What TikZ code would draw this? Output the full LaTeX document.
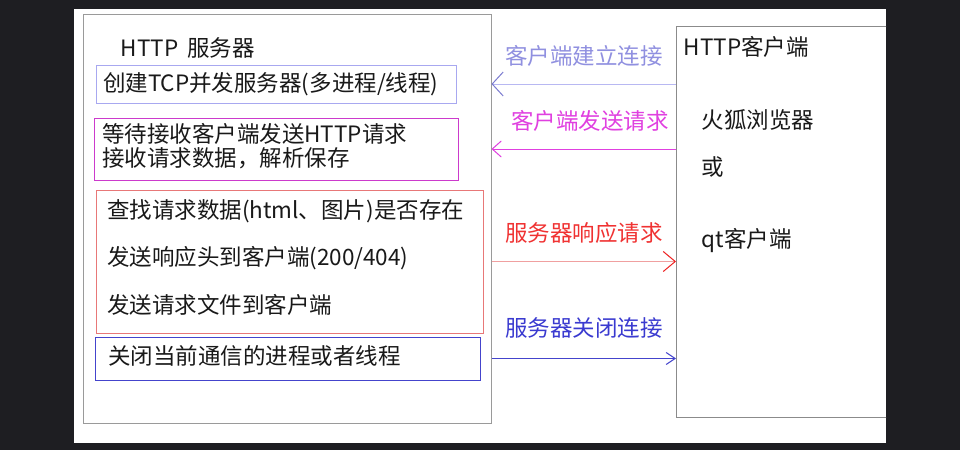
\documentclass[tikz,border=0pt]{standalone}
\usepackage{fontspec}
\setmainfont{Noto Sans CJK SC}
\usepackage{tikz}
\usetikzlibrary{arrows.meta,positioning}
\definecolor{bgdark}{HTML}{1E1E22}
\definecolor{framegray}{HTML}{9A9A9A}
\definecolor{lavbox}{HTML}{A8A8F0}
\definecolor{lavline}{HTML}{B8B8F2}
\definecolor{lavhead}{HTML}{7C7CD0}
\definecolor{lavlabel}{HTML}{9090E0}
\definecolor{magbox}{HTML}{CC3ACC}
\definecolor{magline}{HTML}{E040E0}
\definecolor{redbox}{HTML}{E87878}
\definecolor{redline}{HTML}{F0A0A0}
\definecolor{redhead}{HTML}{EE2222}
\definecolor{redlabel}{HTML}{F03232}
\definecolor{bluebox}{HTML}{4444CC}
\definecolor{bluelabel}{HTML}{3A3AD0}

\begin{document}
\begin{tikzpicture}[x=1pt, y=-1pt, line width=1pt, text=black!90,
    font=\fontsize{22.5}{26}\selectfont,
    stepbox/.style={rectangle, draw, align=left, anchor=center},
    flow/.style={-{Straight Barb[length=9pt,width=16pt]}}]
   \useasboundingbox (0,0) rectangle (960,450);
   \fill[bgdark] (0,0) rectangle (960,450);
   \fill[white] (74,9) rectangle (886,443);

   % server side
   \node (server) [draw=framegray, minimum width=408pt, minimum height=409pt] at (287,218.5) {};
   \node (title) [anchor=west] at (117,48) {HTTP\hspace{0.4em}服务器};
   \node (box1) [stepbox, draw=lavbox, minimum width=360pt, minimum height=38pt,
      inner xsep=7pt, text width=346pt] at (276,84) {创建TCP并发服务器(多进程/线程)};
   \node (box2) [stepbox, draw=magbox, minimum width=364pt, minimum height=62pt,
      inner xsep=8pt, text width=348pt, font=\fontsize{22.5}{24}\selectfont] at (276,149)
      {等待接收客户端发送HTTP请求\\接收请求数据，解析保存\vspace*{6pt}};
   \node (box3) [stepbox, draw=redbox, minimum width=387pt, minimum height=143pt,
      inner xsep=11pt, text width=365pt, font=\fontsize{22.5}{47.5}\selectfont] at (289.5,261.5)
      {查找请求数据(html、图片)是否存在\\发送响应头到客户端(200/404)\\发送请求文件到客户端\vspace*{8pt}};
   \node (box4) [stepbox, draw=bluebox, minimum width=385pt, minimum height=43pt,
      inner xsep=13pt, text width=359pt] at (287.5,358.5) {关闭当前通信的进程或者线程\vspace*{6pt}};

   % client side
   \begin{scope}
    \clip (74,9) rectangle (886,443);
    \node (client) [draw=framegray!90!black, anchor=north west, minimum width=230pt,
       minimum height=391pt] at (676,26) {};
   \end{scope}
   \node (clienttitle) [anchor=west] at (680,47) {HTTP客户端};
   \node (firefox) [anchor=west] at (698,120) {火狐浏览器};
   \node (orword) [anchor=west] at (698,167) {或};
   \node (qtclient) [anchor=west] at (698,241) {qt客户端};

   % messages
   \draw[lavline, -{Straight Barb[length=11pt,width=24pt,color=lavhead]}]
      (client.west |- box1.center) -- node[above=14pt, text=lavlabel] {客户端建立连接} (server.east |- box1.center);
   \draw[magline, flow]
      (client.west |- box2.center) -- node[above=14pt, text=magline, xshift=6pt] {客户端发送请求} (server.east |- box2.center);
   \draw[redline, -{Straight Barb[length=12pt,width=20pt,color=redhead]}]
      (server.east |- box3.center) -- node[above=14pt, text=redlabel] {服务器响应请求} (client.west |- box3.center);
   \draw[bluebox, -{Straight Barb[length=9pt,width=12pt]}]
      (server.east |- box4.center) -- node[above=16pt, text=bluelabel] {服务器关闭连接} (client.west |- box4.center);
\end{tikzpicture}
\end{document}
